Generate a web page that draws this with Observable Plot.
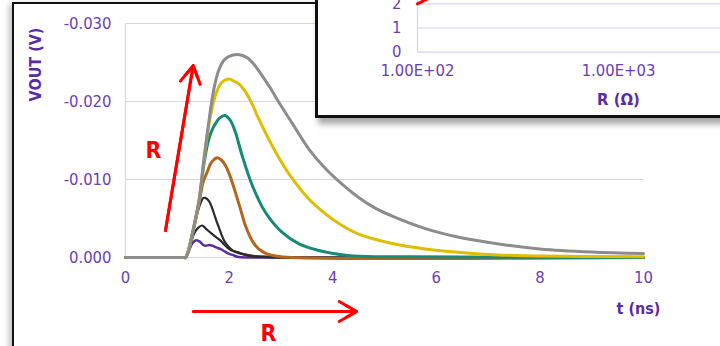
<!DOCTYPE html>
<html><head><meta charset="utf-8">
<script src="https://cdn.jsdelivr.net/npm/d3@7"></script>
<script src="https://cdn.jsdelivr.net/npm/@observablehq/plot@0.6"></script>
<style>
body{margin:0;background:#fff;}
#wrap{position:relative;width:720px;height:346px;overflow:hidden;background:#fff;}
#frame{position:absolute;left:12px;top:2px;width:800px;height:400px;border:2px solid #111;background:#fff;box-shadow:-3px 2px 6px rgba(0,0,0,0.25);}
#insetBox{position:absolute;left:315px;top:-20px;width:460px;height:132px;border:3px solid #111;background:#fff;box-shadow:3px 6px 6px rgba(0,0,0,0.35);}
.layer{position:absolute;left:0;top:0;}
</style></head>
<body><div id="wrap"><div id="frame"></div><div id="mainLayer" class="layer"></div><div id="insetBox"></div><div id="insetLayer" class="layer"></div></div>
<script>
// ---- main chart data: time (ns) and VOUT (V) per curve ----
const xTicks = [0, 2, 4, 6, 8, 10];
const yTicks = [0, -0.01, -0.02, -0.03];

const tPurple = [0, 0.6, 1.0, 1.12, 1.16, 1.23, 1.30, 1.37, 1.44, 1.50, 1.55, 1.62, 1.68, 1.75, 1.83, 1.91, 1.99, 2.08, 2.16, 2.40, 10];
const vPurple = [0, 0, 0, 0, 0, -0.0010, -0.0019, -0.0022, -0.0020, -0.0016, -0.0015, -0.0016, -0.0015, -0.0013, -0.0011, -0.0008, -0.0005, -0.0003, -0.0001, 0, 0];

const tBlack2 = [0, 0.6, 1.0, 1.12, 1.16, 1.25, 1.32, 1.40, 1.48, 1.55, 1.64, 1.73, 1.83, 1.90, 1.96, 2.05, 2.16, 2.30, 2.60, 3.00, 10];
const vBlack2 = [0, 0, 0, 0, 0, -0.0015, -0.0030, -0.0038, -0.0041, -0.0037, -0.0032, -0.0027, -0.0022, -0.0017, -0.0013, -0.0009, -0.0007, -0.0004, -0.0001, 0, 0];

const tBlack1 = [0, 0.6, 1.0, 1.12, 1.16, 1.29, 1.38, 1.45, 1.50, 1.54, 1.59, 1.64, 1.70, 1.75, 1.80, 1.85, 1.90, 1.96, 2.03, 2.12, 2.22, 2.40, 2.70, 3.20, 10];
const vBlack1 = [0, 0, 0, 0, 0, -0.0030, -0.0055, -0.0070, -0.0076, -0.00765, -0.0074, -0.0069, -0.0058, -0.0048, -0.0039, -0.0030, -0.0022, -0.0016, -0.0011, -0.0007, -0.0005, -0.0002, -0.0001, 0, 0];

const tBrown = [0, 0.6, 1.0, 1.12, 1.16, 1.29, 1.42, 1.50, 1.58, 1.64, 1.70, 1.77, 1.85, 1.93, 2.02, 2.10, 2.22, 2.32, 2.45, 2.57, 2.72, 2.90, 3.20, 10];
const vBrown = [0, 0, 0, 0, 0, -0.0030, -0.0070, -0.0097, -0.0110, -0.0120, -0.0125, -0.0128, -0.0125, -0.0118, -0.0104, -0.0088, -0.0062, -0.0040, -0.0021, -0.0011, -0.0005, -0.0002, 0, 0];

const tTeal = [0, 0.6, 1.0, 1.12, 1.16, 1.29, 1.42, 1.51, 1.60, 1.68, 1.74, 1.82, 1.92, 2.02, 2.12, 2.25, 2.45, 2.70, 3.02, 3.35, 3.86, 4.40, 5.50, 10];
const vTeal = [0, 0, 0, 0, 0, -0.0030, -0.0072, -0.0118, -0.0150, -0.0165, -0.0172, -0.0179, -0.0182, -0.0176, -0.0161, -0.0131, -0.0092, -0.0058, -0.00325, -0.00175, -0.0007, -0.0002, -0.0001, 0];

const tYellow = [0, 0.6, 1.0, 1.12, 1.16, 1.29, 1.42, 1.51, 1.60, 1.70, 1.77, 1.85, 1.99, 2.10, 2.20, 2.32, 2.45, 2.57, 2.90, 3.22, 3.54, 3.86, 4.18, 4.50, 5.15, 5.79, 6.37, 7.00, 8.00, 10];
const vYellow = [0, 0, 0, 0, 0, -0.0030, -0.0073, -0.0122, -0.0166, -0.0200, -0.0214, -0.0224, -0.0229, -0.0226, -0.0222, -0.0212, -0.0196, -0.0178, -0.0135, -0.0101, -0.0075, -0.0056, -0.0041, -0.0030, -0.0018, -0.0011, -0.0007, -0.0004, -0.0002, -0.0001];

const tGray = [0, 0.6, 1.0, 1.12, 1.16, 1.22, 1.29, 1.35, 1.42, 1.51, 1.60, 1.70, 1.80, 1.90, 2.00, 2.20, 2.35, 2.50, 2.65, 2.80, 2.96, 3.22, 3.54, 3.86, 4.18, 4.50, 4.83, 5.15, 5.79, 6.37, 7.24, 8.00, 9.00, 10];
const vGray = [0, 0, 0, 0, 0, -0.0008, -0.0030, -0.0050, -0.0073, -0.0124, -0.0170, -0.0214, -0.0240, -0.0253, -0.0258, -0.0260, -0.0256, -0.0246, -0.0232, -0.0217, -0.0199, -0.0172, -0.0139, -0.0114, -0.0094, -0.0077, -0.0063, -0.0053, -0.0037, -0.0027, -0.0017, -0.0011, -0.0007, -0.0005];

const seriesNames = ["purple", "black2", "black1", "brown", "teal", "yellow", "gray"];
const seriesT = [tPurple, tBlack2, tBlack1, tBrown, tTeal, tYellow, tGray];
const seriesV = [vPurple, vBlack2, vBlack1, vBrown, vTeal, vYellow, vGray];
const seriesColors = ["#5a2ca0", "#2b2b2b", "#2b2b2b", "#b5651d", "#168a78", "#dfbd00", "#8c8c8c"];
const seriesWidths = [2.5, 2.2, 2.2, 3, 3, 3, 3];

// annotation arrows (time, VOUT) and labels
const arrowX1 = [0.772, 1.313];
const arrowY1 = [-0.00346, 0.00692];
const arrowX2 = [1.307, 4.46];
const arrowY2 = [-0.0246, 0.00692];
const labelX = [0.54, 2.76];
const labelY = [-0.0137, 0.0098];
const labelText = ["R", "R"];

// ---- inset data ----
const insetXTicks = [100, 1000];
const insetXTickLabels = ["1.00E+02", "1.00E+03"];
const insetYTicks = [0, 1, 2];
const insetR = [100, 112];
const insetV = [2.0, 2.2];

const FONT = '"DejaVu Sans Condensed","DejaVu Sans",sans-serif';
const tickColor = "#6a3db6";
const titleColor = "#5b2ba6";
const gridColor = "#ddd0f3";

const lineMarks = seriesNames.map((name, i) => {
  const rows = seriesT[i].map((t, j) => ({t, v: seriesV[i][j]}));
  return Plot.line(rows, {x: "t", y: "v", stroke: seriesColors[i], strokeWidth: seriesWidths[i], curve: "catmull-rom", strokeLinejoin: "round", strokeLinecap: "round"});
});

const arrows = arrowX1.map((x1, i) => ({x1, y1: arrowY1[i], x2: arrowX2[i], y2: arrowY2[i]}));
const labels = labelX.map((x, i) => ({x, y: labelY[i], text: labelText[i]}));
const arrowOpts = {x1: "x1", y1: "y1", x2: "x2", y2: "y2", stroke: "#ff0000", strokeWidth: 3, headAngle: 60, strokeLinejoin: "miter"};

const main = Plot.plot({
  width: 720, height: 346,
  marginLeft: 125, marginRight: 77, marginTop: 23, marginBottom: 89,
  style: {background: "transparent", fontFamily: FONT, fontSize: "16.5px", color: tickColor, overflow: "visible"},
  x: {domain: [0, 10]},
  y: {domain: [0, -0.03]},
  marks: [
    Plot.gridY(yTicks, {stroke: gridColor, strokeOpacity: 1, strokeWidth: 1.2}),
    Plot.ruleX([0], {y1: 0, y2: -0.03, stroke: gridColor, strokeWidth: 1.2}),
    ...lineMarks,
    Plot.axisY(yTicks, {tickSize: 0, tickPadding: 14, tickFormat: d => d.toFixed(3), label: null}),
    Plot.axisX(xTicks, {tickSize: 0, tickPadding: 14, tickFormat: d => String(d), label: null}),
    Plot.text(["VOUT (V)"], {frameAnchor: "top-left", textAnchor: "middle", lineAnchor: "middle", rotate: -90, dx: -90, dy: 41, fontWeight: "bold", fontSize: 16, fill: titleColor}),
    Plot.text(["t (ns)"], {frameAnchor: "bottom-right", textAnchor: "middle", lineAnchor: "middle", dx: -5, dy: 51, fontWeight: "bold", fontSize: 16, fill: titleColor}),
    Plot.arrow(arrows, {...arrowOpts, headLength: 10}),
    Plot.arrow(arrows, {...arrowOpts, headLength: 6}),
    Plot.text(labels, {x: "x", y: "y", text: "text", fill: "#ff0000", fontWeight: "bold", fontSize: 23})
  ]
});
main.style.maxWidth = "none";
document.getElementById("mainLayer").appendChild(main);

const insetRows = insetR.map((r, i) => ({r, v: insetV[i]}));
const inset = Plot.plot({
  width: 819, height: 118,
  marginLeft: 417, marginRight: 0, marginTop: 3.3, marginBottom: 66.3,
  style: {background: "transparent", fontFamily: FONT, fontSize: "16.5px", color: tickColor, overflow: "visible"},
  x: {type: "log", domain: [100, 10000]},
  y: {domain: [0, 2]},
  marks: [
    Plot.gridY(insetYTicks, {stroke: gridColor, strokeOpacity: 1, strokeWidth: 1.2}),
    Plot.ruleX([100], {y1: 0, y2: 2.2, stroke: gridColor, strokeWidth: 1.2}),
    Plot.line(insetRows, {x: "r", y: "v", stroke: "#ff0000", strokeWidth: 3}),
    Plot.axisY(insetYTicks, {tickSize: 0, tickPadding: 16, tickFormat: d => String(d), label: null}),
    Plot.axisX(insetXTicks, {tickSize: 0, tickPadding: 12, tickFormat: d => insetXTickLabels[insetXTicks.indexOf(d)], label: null}),
    Plot.text(["R (Ω)"], {frameAnchor: "bottom", lineAnchor: "middle", dy: 48, fontWeight: "bold", fontSize: 16.5, fill: titleColor})
  ]
});
inset.style.maxWidth = "none";
document.getElementById("insetLayer").appendChild(inset);
</script>
</body></html>
